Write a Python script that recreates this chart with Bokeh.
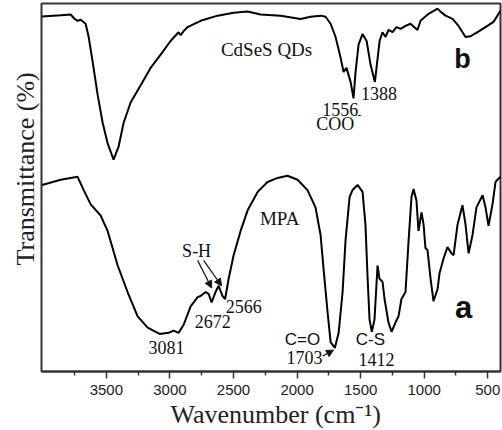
from bokeh.core.properties import value
from bokeh.embed import file_html
from bokeh.models import Arrow, FixedTicker, NormalHead, Range1d, Title
from bokeh.plotting import figure
from bokeh.resources import INLINE

# FTIR spectrum of CdSeS quantum dots (b, upper trace)
wn_b = [4005, 3859, 3781, 3749, 3726, 3702, 3663, 3639, 3608, 3568, 3529, 3490,
        3443, 3403, 3364, 3309, 3230, 3152, 3073, 2995, 2932, 2916, 2892, 2861,
        2759, 2625, 2499, 2389, 2287, 2129, 1972, 1894, 1815, 1776, 1736, 1697,
        1658, 1634, 1611, 1579, 1556, 1540, 1516, 1485, 1453, 1422, 1388, 1375,
        1351, 1328, 1304, 1281, 1249, 1218, 1186, 1147, 1108, 1053, 1029, 966,
        895, 872, 832, 777, 730, 675, 636, 581, 518, 455, 424, 400]
tr_b = [96.5, 96.8, 97.0, 95.8, 95.3, 95.6, 94.5, 90.9, 84.2, 75.1, 67.6, 62.0,
        57.6, 61.2, 67.6, 73.1, 77.8, 82.5, 86.1, 89.8, 92.2, 91.4, 92.5, 93.6,
        95.3, 96.7, 97.5, 97.8, 97.0, 96.7, 95.8, 96.4, 96.7, 96.4, 94.5, 90.9,
        85.3, 81.4, 82.5, 78.7, 74.2, 81.4, 88.9, 91.7, 89.8, 83.4, 78.7, 82.5,
        89.8, 92.2, 90.9, 92.8, 92.2, 93.6, 93.1, 93.9, 94.5, 92.8, 95.3, 97.2,
        98.6, 97.8, 96.7, 95.8, 93.9, 90.9, 91.1, 92.2, 93.6, 95.0, 96.7, 98.1]

# FTIR spectrum of mercaptopropionic acid (a, lower trace)
wn_a = [4005, 3859, 3726, 3678, 3623, 3545, 3490, 3411, 3333, 3254, 3175, 3097,
        3081, 3010, 2971, 2932, 2892, 2837, 2782, 2759, 2719, 2696, 2672, 2641,
        2617, 2586, 2566, 2538, 2499, 2444, 2389, 2310, 2232, 2153, 2075, 1996,
        1918, 1855, 1815, 1792, 1760, 1736, 1703, 1673, 1642, 1619, 1587, 1564,
        1524, 1485, 1462, 1446, 1430, 1412, 1391, 1367, 1352, 1328, 1312, 1281,
        1257, 1226, 1202, 1179, 1147, 1123, 1100, 1084, 1061, 1045, 1021, 1005,
        990, 974, 950, 927, 895, 880, 848, 817, 785, 769, 738, 699, 675, 651,
        620, 589, 541, 518, 494, 463, 439, 416, 400]
tr_a = [50.7, 52.1, 52.9, 49.3, 45.4, 42.4, 38.2, 28.8, 21.6, 15.0, 11.9, 10.5,
        10.2, 10.5, 11.1, 10.5, 12.7, 17.7, 20.2, 20.5, 21.6, 21.1, 18.8, 21.6,
        23.3, 20.5, 19.7, 25.2, 31.6, 38.2, 43.8, 48.8, 51.5, 52.6, 53.2, 52.1,
        49.3, 44.6, 37.1, 28.0, 16.1, 8.0, 6.4, 10.5, 21.6, 35.5, 47.4, 49.3,
        50.7, 48.8, 39.9, 26.0, 14.1, 10.8, 14.1, 28.8, 25.2, 24.4, 19.7, 13.3,
        10.8, 13.3, 15.0, 19.7, 21.6, 35.5, 47.4, 49.6, 46.5, 38.2, 43.2, 39.9,
        33.5, 33.0, 25.2, 19.1, 22.4, 26.6, 30.7, 33.8, 32.1, 31.6, 39.9, 45.2,
        39.9, 32.1, 37.1, 44.6, 47.9, 44.6, 39.6, 45.4, 51.5, 52.4, 52.9]

major_ticks = [3500, 3000, 2500, 2000, 1500, 1000, 500]
minor_ticks = [3750, 3250, 2750, 2250, 1750, 1250, 750]

SERIF = value("Liberation Serif")
SANS = value("Liberation Sans")

p = figure(width=502, height=430, title=None, output_backend="svg",
           toolbar_location=None, y_axis_location=None,
           x_range=Range1d(4010, 400), y_range=Range1d(0, 100),
           min_border_left=41, min_border_right=2, min_border_top=3,
           min_border_bottom=59)

p.background_fill_color = "white"
p.border_fill_color = "white"
p.outline_line_color = "#333333"
p.outline_line_width = 2
p.xgrid.visible = False
p.ygrid.visible = False

ax = p.xaxis[0]
ax.ticker = FixedTicker(ticks=major_ticks, minor_ticks=minor_ticks)
ax.axis_line_color = "#333333"
ax.axis_line_width = 2
ax.major_tick_in = 0
ax.major_tick_out = 7
ax.minor_tick_in = 0
ax.minor_tick_out = 4
ax.major_tick_line_color = "#333333"
ax.minor_tick_line_color = "#333333"
ax.major_tick_line_width = 1.5
ax.minor_tick_line_width = 1.5
ax.major_label_text_font = "Liberation Sans"
ax.major_label_text_font_size = "15px"
ax.major_label_text_color = "#222222"
ax.major_label_standoff = 6

# axis titles as side titles, positioned along the frame with offsets
p.add_layout(Title(text="Wavenumber (cm\u207b\u00b9)", align="left",
                   offset=129, standoff=0, text_font="Liberation Serif",
                   text_font_size="26px", text_font_style="normal",
                   text_color="#222222"), "below")
p.add_layout(Title(text="Transmittance (%)", align="left", offset=106,
                   standoff=4, text_font="Liberation Serif",
                   text_font_size="26px", text_font_style="normal",
                   text_color="#222222"), "left")

p.line(wn_b, tr_b, line_color="black", line_width=2)
p.line(wn_a, tr_a, line_color="black", line_width=2)


def note(x, y, text, font=SERIF, size="18px", style="normal"):
    p.text(x=[x], y=[y], text=[text], text_font=font, text_font_size=size,
           text_font_style=style, text_align="center", text_baseline="middle",
           text_color="#111111")


# trace b annotations
note(2240, 87.5, "CdSeS QDs", size="19px")
note(699, 84.8, "b", font=SANS, size="27px", style="bold")
note(1660, 71.2, "1556")
note(1700, 67.3, "COO")
note(1509, 69.6, "-", size="12px")
note(1355, 75.6, "1388")

# trace a annotations
note(2137, 41.6, "MPA", size="19px")
note(2790, 32.7, "S-H")
note(2664, 13.6, "2672")
note(2420, 17.7, "2566")
note(3026, 6.6, "3081")
note(1958, 8.6, "C=O", font=SANS, size="17px")
note(1942, 3.9, "1703")
note(1423, 8.6, "C-S", font=SANS, size="17px")
note(1375, 3.3, "1412")
note(691, 17.5, "a", font=SANS, size="31px", style="bold")

for x0, y0, x1, y1 in [(2782, 30.2, 2672, 22.7), (2735, 30.2, 2594, 23.3),
                       (1799, 4.2, 1713, 5.8)]:
    p.add_layout(Arrow(x_start=x0, y_start=y0, x_end=x1, y_end=y1,
                       line_color="#111111", line_width=1.2,
                       end=NormalHead(size=7, fill_color="#111111",
                                      line_color="#111111")))

open("out.html", "w").write(file_html(p, INLINE))
